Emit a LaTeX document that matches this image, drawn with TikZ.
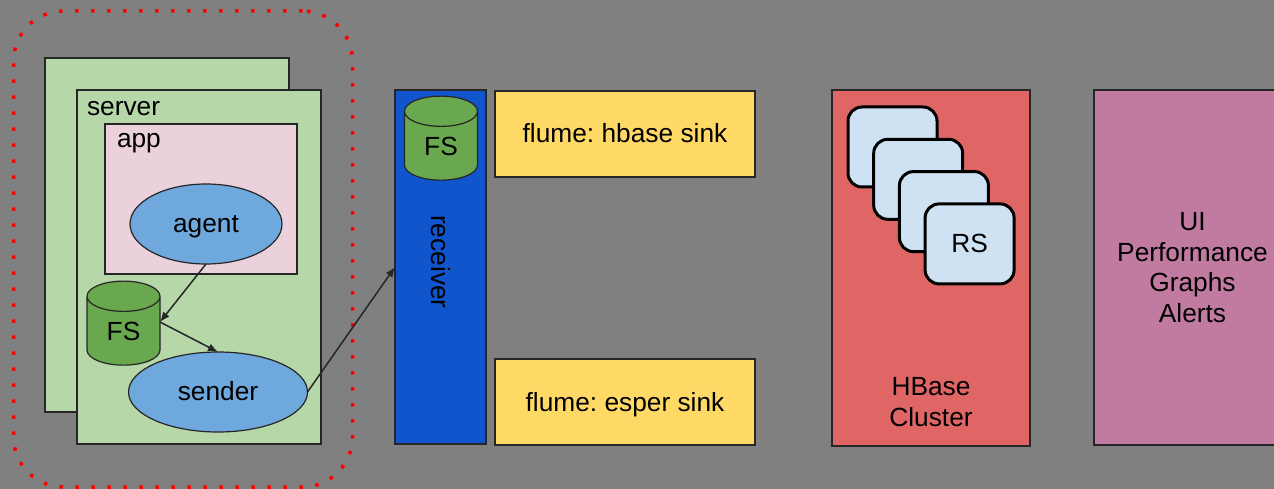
\documentclass[tikz,border=0pt]{standalone}
\usepackage{fontspec}
\setmainfont{Liberation Sans}
\frenchspacing
\usetikzlibrary{positioning}
\usetikzlibrary{arrows.meta,shapes}
\definecolor{background}{HTML}{808080}
\definecolor{servergreen}{HTML}{B6D7A8}
\definecolor{apppink}{HTML}{EAD1DC}
\definecolor{procblue}{HTML}{6FA8DC}
\definecolor{fsgreen}{HTML}{6AA84F}
\definecolor{recvblue}{HTML}{1155CC}
\definecolor{sinkyellow}{HTML}{FFD966}
\definecolor{hbasered}{HTML}{E06666}
\definecolor{uipurple}{HTML}{C27BA0}
\definecolor{rsblue}{HTML}{CFE2F3}
\tikzset{
	box/.style={draw=black!85,line width=1.5pt,rectangle,inner sep=0,outer sep=0},
	proc/.style={draw=black!85,line width=1.2pt,ellipse,fill=procblue,minimum width=#1,minimum height=80pt,inner sep=0,outer sep=0,text height=17pt,text depth=0pt},
	disk/.style={draw=black!85,line width=1.2pt,cylinder,shape border rotate=90,aspect=0.9,cylinder uses custom fill,cylinder body fill=fsgreen,cylinder end fill=fsgreen,minimum height=84pt,minimum width=73pt,inner sep=0,outer sep=0},
	sink/.style={box,fill=sinkyellow,minimum width=260pt,minimum height=86pt,text height=18pt,text depth=0pt},
	rs/.style={draw=black,line width=3pt,rectangle,rounded corners=14pt,fill=rsblue,minimum width=89pt,minimum height=80pt,inner sep=0},
	txt/.style={inner sep=0,outer sep=0}
}
\begin{document}
\begin{tikzpicture}[x=1pt,y=-1pt,>={Latex[length=10pt,width=8pt]},every node/.style={font=\fontsize{26.3}{30.6}\selectfont}]
	\clip (0,0) rectangle (1274,489);
	\fill[background] (0,0) rectangle (1274,489);
	\node (group) [draw=red,line width=3.5pt,dash pattern=on 3.5pt off 12.5pt,rectangle,rounded corners=50pt,minimum width=339pt,minimum height=476pt] at (183,249) {};
	\node (back) [box,fill=servergreen,minimum width=244pt,minimum height=354pt] at (167,235) {};
	\node (server) [box,fill=servergreen,minimum width=244pt,minimum height=354pt] at (199,267) {};
	\node (servertxt) [txt,anchor=base west] at (87,116) {server};
	\node (app) [box,fill=apppink,minimum width=192pt,minimum height=150pt] at (201,199) {};
	\node (apptxt) [txt,anchor=base west] at (117,148) {app};
	\node (agent) [proc=152pt] at (206,224) {agent};
	\node (fs) [disk] at (123.5,331) {FS};
	\node (sender) [proc=179pt] at (218,392) {sender};
	\node (receiver) [box,fill=recvblue,minimum width=91pt,minimum height=354pt] at (440.5,267) {};
	\node (fs2) [disk] at (441,146) {FS};
	\node (recvtxt) [txt,rotate=-90] at (441,262) {receiver};
	\node (hsink) [sink] at (625,134) {flume: hbase sink};
	\node (esink) [sink] at (625,402) {flume: esper sink};
	\node (hbase) [box,fill=hbasered,minimum width=198pt,minimum height=356pt] at (931,268) {};
	\node (hbasetxt) [txt,align=center] at (931,402) {HBase\\Cluster};
	\node (rs1) [rs] at (892.5,147) {};
	\node (rs2) [rs,below right=-50.7pt and -66.3pt of rs1] {};
	\node (rs3) [rs,below right=-50.7pt and -66.3pt of rs2] {};
	\node (rs4) [rs,below right=-50.7pt and -66.3pt of rs3] {RS};
	\node (ui) [box,fill=uipurple,minimum width=197pt,minimum height=355pt,align=center] at (1192.5,267.5) {UI\\Performance\\Graphs\\Alerts};
	\path[->,line width=1.5pt,black!85]
		(agent.south) edge ([yshift=9pt]fs.east)
		([yshift=9pt]fs.east) edge (sender.north)
		(sender.east) edge (receiver.west);
\end{tikzpicture}
\end{document}
